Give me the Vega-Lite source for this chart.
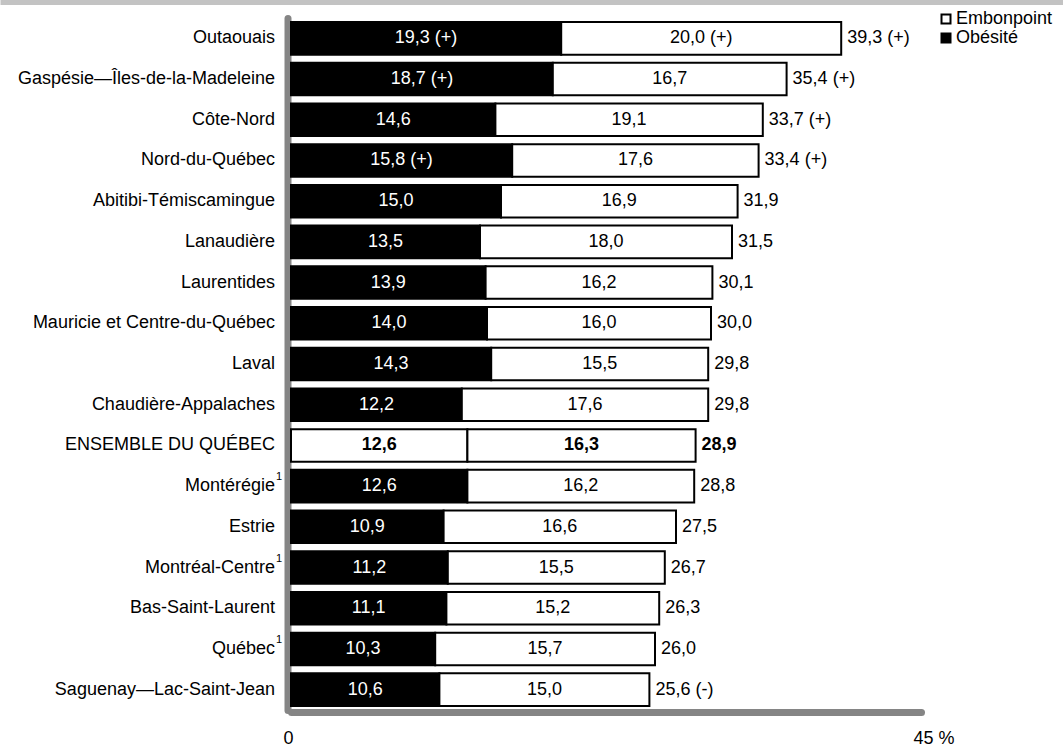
{
  "$schema": "https://vega.github.io/schema/vega-lite/v6.json",
  "width": 630,
  "height": 692,
  "autosize": "none",
  "padding": {"left": 291, "top": 18, "right": 142, "bottom": 36},
  "background": "white",
  "config": {
    "font": "Liberation Sans",
    "view": {"stroke": null},
    "text": {"font": "Liberation Sans", "fontSize": 18},
    "axis": {"labelFont": "Liberation Sans", "labelColor": "black", "labelFontSize": 18}
  },
  "datasets": {
    "seg": [
      {"region": "Outaouais", "type": "Obésité", "value": 19.3, "label": "19,3 (+)", "ord": 1},
      {"region": "Outaouais", "type": "Embonpoint", "value": 20.0, "label": "20,0 (+)", "ord": 2},
      {"region": "Gaspésie—Îles-de-la-Madeleine", "type": "Obésité", "value": 18.7, "label": "18,7 (+)", "ord": 1},
      {"region": "Gaspésie—Îles-de-la-Madeleine", "type": "Embonpoint", "value": 16.7, "label": "16,7", "ord": 2},
      {"region": "Côte-Nord", "type": "Obésité", "value": 14.6, "label": "14,6", "ord": 1},
      {"region": "Côte-Nord", "type": "Embonpoint", "value": 19.1, "label": "19,1", "ord": 2},
      {"region": "Nord-du-Québec", "type": "Obésité", "value": 15.8, "label": "15,8 (+)", "ord": 1},
      {"region": "Nord-du-Québec", "type": "Embonpoint", "value": 17.6, "label": "17,6", "ord": 2},
      {"region": "Abitibi-Témiscamingue", "type": "Obésité", "value": 15.0, "label": "15,0", "ord": 1},
      {"region": "Abitibi-Témiscamingue", "type": "Embonpoint", "value": 16.9, "label": "16,9", "ord": 2},
      {"region": "Lanaudière", "type": "Obésité", "value": 13.5, "label": "13,5", "ord": 1},
      {"region": "Lanaudière", "type": "Embonpoint", "value": 18.0, "label": "18,0", "ord": 2},
      {"region": "Laurentides", "type": "Obésité", "value": 13.9, "label": "13,9", "ord": 1},
      {"region": "Laurentides", "type": "Embonpoint", "value": 16.2, "label": "16,2", "ord": 2},
      {"region": "Mauricie et Centre-du-Québec", "type": "Obésité", "value": 14.0, "label": "14,0", "ord": 1},
      {"region": "Mauricie et Centre-du-Québec", "type": "Embonpoint", "value": 16.0, "label": "16,0", "ord": 2},
      {"region": "Laval", "type": "Obésité", "value": 14.3, "label": "14,3", "ord": 1},
      {"region": "Laval", "type": "Embonpoint", "value": 15.5, "label": "15,5", "ord": 2},
      {"region": "Chaudière-Appalaches", "type": "Obésité", "value": 12.2, "label": "12,2", "ord": 1},
      {"region": "Chaudière-Appalaches", "type": "Embonpoint", "value": 17.6, "label": "17,6", "ord": 2},
      {"region": "ENSEMBLE DU QUÉBEC", "type": "Obésité", "value": 12.6, "label": "12,6", "ord": 1},
      {"region": "ENSEMBLE DU QUÉBEC", "type": "Embonpoint", "value": 16.3, "label": "16,3", "ord": 2},
      {"region": "Montérégie", "type": "Obésité", "value": 12.6, "label": "12,6", "ord": 1},
      {"region": "Montérégie", "type": "Embonpoint", "value": 16.2, "label": "16,2", "ord": 2},
      {"region": "Estrie", "type": "Obésité", "value": 10.9, "label": "10,9", "ord": 1},
      {"region": "Estrie", "type": "Embonpoint", "value": 16.6, "label": "16,6", "ord": 2},
      {"region": "Montréal-Centre", "type": "Obésité", "value": 11.2, "label": "11,2", "ord": 1},
      {"region": "Montréal-Centre", "type": "Embonpoint", "value": 15.5, "label": "15,5", "ord": 2},
      {"region": "Bas-Saint-Laurent", "type": "Obésité", "value": 11.1, "label": "11,1", "ord": 1},
      {"region": "Bas-Saint-Laurent", "type": "Embonpoint", "value": 15.2, "label": "15,2", "ord": 2},
      {"region": "Québec", "type": "Obésité", "value": 10.3, "label": "10,3", "ord": 1},
      {"region": "Québec", "type": "Embonpoint", "value": 15.7, "label": "15,7", "ord": 2},
      {"region": "Saguenay—Lac-Saint-Jean", "type": "Obésité", "value": 10.6, "label": "10,6", "ord": 1},
      {"region": "Saguenay—Lac-Saint-Jean", "type": "Embonpoint", "value": 15.0, "label": "15,0", "ord": 2}
    ],
    "tot": [
      {"region": "Outaouais", "total": 39.3, "label": "39,3 (+)", "note": ""},
      {"region": "Gaspésie—Îles-de-la-Madeleine", "total": 35.4, "label": "35,4 (+)", "note": ""},
      {"region": "Côte-Nord", "total": 33.7, "label": "33,7 (+)", "note": ""},
      {"region": "Nord-du-Québec", "total": 33.4, "label": "33,4 (+)", "note": ""},
      {"region": "Abitibi-Témiscamingue", "total": 31.9, "label": "31,9", "note": ""},
      {"region": "Lanaudière", "total": 31.5, "label": "31,5", "note": ""},
      {"region": "Laurentides", "total": 30.1, "label": "30,1", "note": ""},
      {"region": "Mauricie et Centre-du-Québec", "total": 30.0, "label": "30,0", "note": ""},
      {"region": "Laval", "total": 29.8, "label": "29,8", "note": ""},
      {"region": "Chaudière-Appalaches", "total": 29.8, "label": "29,8", "note": ""},
      {"region": "ENSEMBLE DU QUÉBEC", "total": 28.9, "label": "28,9", "note": ""},
      {"region": "Montérégie", "total": 28.8, "label": "28,8", "note": "1"},
      {"region": "Estrie", "total": 27.5, "label": "27,5", "note": ""},
      {"region": "Montréal-Centre", "total": 26.7, "label": "26,7", "note": "1"},
      {"region": "Bas-Saint-Laurent", "total": 26.3, "label": "26,3", "note": ""},
      {"region": "Québec", "total": 26.0, "label": "26,0", "note": "1"},
      {"region": "Saguenay—Lac-Saint-Jean", "total": 25.6, "label": "25,6 (-)", "note": ""}
    ],
    "band": [{"v": 0}, {"v": 1}]
  },
  "layer": [
    {
      "layer": [
        {
          "data": {"name": "seg"},
          "mark": {"type": "bar", "stroke": "black", "strokeWidth": 2},
          "encoding": {
            "y": {
              "field": "region", "type": "nominal",
              "scale": {"domain": ["Outaouais", "Gaspésie—Îles-de-la-Madeleine", "Côte-Nord", "Nord-du-Québec", "Abitibi-Témiscamingue", "Lanaudière", "Laurentides", "Mauricie et Centre-du-Québec", "Laval", "Chaudière-Appalaches", "ENSEMBLE DU QUÉBEC", "Montérégie", "Estrie", "Montréal-Centre", "Bas-Saint-Laurent", "Québec", "Saguenay—Lac-Saint-Jean"], "paddingInner": 0.2, "paddingOuter": 0.1},
              "axis": {"title": null, "domainColor": "#858585", "domainWidth": 7, "domainCap": "round", "ticks": false, "tickSize": 0, "labelPadding": 13, "labelLimit": 0, "offset": 3.5, "grid": false}
            },
            "x": {
              "field": "value", "type": "quantitative", "stack": "zero",
              "scale": {"domain": [0, 45], "nice": false},
              "axis": {"title": null, "values": [0, 45], "labelExpr": "datum.value == 45 ? '45 %' : '0'", "labelAlign": "left", "labelOffset": -8, "labelFlush": false, "labelPadding": 17, "domainColor": "#858585", "domainWidth": 7, "domainCap": "round", "ticks": false, "tickSize": 0, "offset": 2, "grid": false}
            },
            "order": {"field": "ord", "type": "quantitative"},
            "fill": {
              "condition": {"test": "datum.region === 'ENSEMBLE DU QUÉBEC'", "value": "white"},
              "field": "type", "type": "nominal",
              "scale": {"domain": ["Embonpoint", "Obésité"], "range": ["white", "black"]},
              "legend": {"orient": "none", "legendX": 646, "legendY": -8, "title": null, "symbolType": "square", "symbolSize": 81, "symbolStrokeColor": "black", "symbolStrokeWidth": 2, "labelFontSize": 18, "labelFont": "Liberation Sans", "labelColor": "black", "labelOffset": 1, "labelLimit": 0, "rowPadding": 1, "padding": 0}
            }
          }
        },
        {
          "data": {"name": "seg"},
          "transform": [
            {"stack": "value", "groupby": ["region"], "sort": [{"field": "ord", "order": "ascending"}], "as": ["x0", "x1"]},
            {"fold": ["x0", "x1"], "as": ["edge", "pos"]},
            {"aggregate": [{"op": "mean", "field": "pos", "as": "mid"}], "groupby": ["region", "type", "label", "ord"]},
            {"filter": "datum.region !== 'ENSEMBLE DU QUÉBEC'"}
          ],
          "mark": {"type": "text", "align": "center", "baseline": "middle", "fontSize": 18},
          "encoding": {
            "y": {"field": "region", "type": "nominal"},
            "x": {"field": "mid", "type": "quantitative"},
            "text": {"field": "label"},
            "color": {"condition": {"test": "datum.type === 'Obésité'", "value": "white"}, "value": "black"}
          }
        },
        {
          "data": {"name": "seg"},
          "transform": [
            {"stack": "value", "groupby": ["region"], "sort": [{"field": "ord", "order": "ascending"}], "as": ["x0", "x1"]},
            {"fold": ["x0", "x1"], "as": ["edge", "pos"]},
            {"aggregate": [{"op": "mean", "field": "pos", "as": "mid"}], "groupby": ["region", "type", "label", "ord"]},
            {"filter": "datum.region === 'ENSEMBLE DU QUÉBEC'"}
          ],
          "mark": {"type": "text", "align": "center", "baseline": "middle", "fontSize": 18, "fontWeight": "bold", "color": "black"},
          "encoding": {
            "y": {"field": "region", "type": "nominal"},
            "x": {"field": "mid", "type": "quantitative"},
            "text": {"field": "label"}
          }
        },
        {
          "data": {"name": "tot"},
          "transform": [{"filter": "datum.region !== 'ENSEMBLE DU QUÉBEC'"}],
          "mark": {"type": "text", "align": "left", "baseline": "middle", "dx": 6, "fontSize": 18, "color": "black"},
          "encoding": {
            "y": {"field": "region", "type": "nominal"},
            "x": {"field": "total", "type": "quantitative"},
            "text": {"field": "label"}
          }
        },
        {
          "data": {"name": "tot"},
          "transform": [{"filter": "datum.region === 'ENSEMBLE DU QUÉBEC'"}],
          "mark": {"type": "text", "align": "left", "baseline": "middle", "dx": 6, "fontSize": 18, "fontWeight": "bold", "color": "black"},
          "encoding": {
            "y": {"field": "region", "type": "nominal"},
            "x": {"field": "total", "type": "quantitative"},
            "text": {"field": "label"}
          }
        },
        {
          "data": {"name": "tot"},
          "transform": [{"filter": "datum.note === '1'"}],
          "mark": {"type": "text", "align": "left", "baseline": "middle", "dx": -15, "dy": -9, "fontSize": 11, "color": "black"},
          "encoding": {
            "y": {"field": "region", "type": "nominal"},
            "x": {"datum": 0, "type": "quantitative"},
            "text": {"field": "note"}
          }
        }
      ]
    },
    {
      "data": {"name": "band"},
      "mark": {"type": "point", "opacity": 0},
      "encoding": {
        "x": {
          "field": "v", "type": "quantitative",
          "scale": {"domain": [0, 1], "range": [-291, 772], "nice": false, "zero": false},
          "axis": {"orient": "top", "offset": 16, "title": null, "labels": false, "ticks": false, "grid": false, "domainColor": "#c3c3c3", "domainWidth": 5}
        }
      }
    }
  ],
  "resolve": {"scale": {"x": "independent"}, "axis": {"x": "independent"}}
}
